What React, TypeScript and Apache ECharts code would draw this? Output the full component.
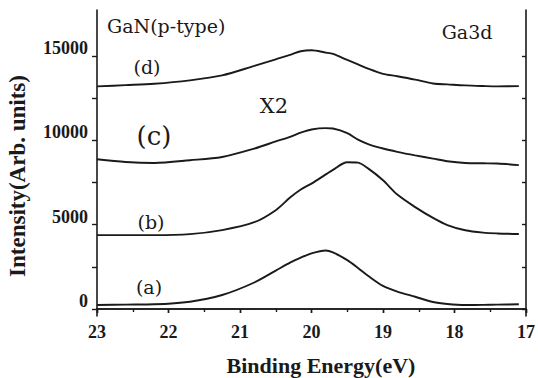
import React, { useEffect, useRef } from "react";
import * as echarts from "echarts";

const energies = [23.0, 22.6, 22.2, 21.7, 21.25, 20.8, 20.5, 20.3, 20.15, 20.0, 19.8, 19.7, 19.5, 19.35, 19.2, 19.0, 18.8, 18.55, 18.3, 18.1, 17.85, 17.6, 17.4, 17.1];

const curveA = [237, 260, 278, 432, 828, 1570, 2274, 2745, 3040, 3300, 3470, 3350, 2898, 2435, 1940, 1370, 1035, 725, 415, 300, 240, 245, 260, 278];
const curveB = [4376, 4376, 4376, 4435, 4672, 5140, 5855, 6600, 7080, 7427, 7972, 8244, 8690, 8670, 8300, 7627, 6778, 6037, 5395, 4975, 4665, 4525, 4477, 4440];
const curveC = [8870, 8711, 8652, 8811, 9006, 9500, 9926, 10200, 10446, 10634, 10715, 10690, 10420, 10030, 9755, 9505, 9310, 9100, 8910, 8755, 8650, 8630, 8616, 8525];
const curveD = [13187, 13260, 13340, 13545, 13838, 14400, 14790, 15050, 15270, 15330, 15190, 15110, 14750, 14490, 14220, 13930, 13790, 13590, 13355, 13306, 13245, 13210, 13190, 13200];

const yLabelValues = [0, 5000, 10000, 15000];
const yTickValues = [0, 2500, 5000, 7500, 10000, 12500, 15000];
const xMin = 17;
const xMax = 23;
const yMin = -414;
const yMax = 17711;

const INK = "#1a1a1a";
const SERIF = "'Liberation Serif', 'DejaVu Serif', serif";
const WIDE_SERIF = "'DejaVu Serif', serif";

function pair(vals: number[]) {
  return energies.map((e, i) => [e, vals[i]]);
}

export default function App() {
  const ref = useRef<HTMLDivElement>(null);
  useEffect(() => {
    document.body.style.margin = "0";
    if (!ref.current) return;
    const chart = echarts.init(ref.current, null, { renderer: "svg" });
    const lineStyle = { color: INK, width: 1.9 };
    const mkSeries = (name: string, vals: number[]) => ({
      name,
      type: "line",
      data: pair(vals),
      showSymbol: false,
      smooth: 0.3,
      lineStyle,
      xAxisIndex: 0,
      yAxisIndex: 0,
    });
    const label = (text: string, x: number, y: number, size: number) => ({
      type: "text",
      x,
      y,
      style: { text, font: `${size}px ${WIDE_SERIF}`, fill: INK, align: "center", verticalAlign: "middle" },
    });
    chart.setOption({
      animation: false,
      backgroundColor: "#ffffff",
      grid: { left: 97, right: 9, top: 10, bottom: 62, containLabel: false },
      xAxis: [
        {
          type: "value",
          min: xMin,
          max: xMax,
          interval: 1,
          inverse: true,
          position: "bottom",
          axisLine: { show: true, lineStyle: { color: INK, width: 1.6 } },
          axisTick: { show: true, inside: false, length: 4, lineStyle: { color: INK, width: 1.4 } },
          minorTick: { show: true, splitNumber: 2, length: 3, lineStyle: { color: INK, width: 1.2 } },
          axisLabel: { fontFamily: SERIF, fontSize: 18, fontWeight: "bold", color: INK, margin: 7 },
          splitLine: { show: false },
        },
        {
          type: "value",
          min: xMin,
          max: xMax,
          interval: 1,
          inverse: true,
          position: "top",
          axisLine: { show: true, lineStyle: { color: INK, width: 1.6 } },
          axisTick: { show: true, inside: true, length: 4, lineStyle: { color: INK, width: 1.4 } },
          minorTick: { show: true, splitNumber: 2, length: 3, lineStyle: { color: INK, width: 1.2 } },
          axisLabel: { show: false },
          splitLine: { show: false },
        },
      ],
      yAxis: [
        {
          type: "value",
          min: yMin,
          max: yMax,
          position: "left",
          axisLine: { show: true, lineStyle: { color: INK, width: 1.6 } },
          axisTick: { show: true, inside: false, length: 5, customValues: yTickValues, lineStyle: { color: INK, width: 1.4 } },
          axisLabel: {
            fontFamily: SERIF,
            fontSize: 18,
            fontWeight: "bold",
            color: INK,
            margin: 9,
            customValues: yLabelValues,
            formatter: (v: number) => String(v),
            verticalAlign: "bottom",
            lineHeight: 16,
          },
          splitLine: { show: false },
        },
        {
          type: "value",
          min: yMin,
          max: yMax,
          position: "right",
          axisLine: { show: true, lineStyle: { color: INK, width: 1.6 } },
          axisTick: { show: true, inside: true, length: 4, customValues: yTickValues, lineStyle: { color: INK, width: 1.4 } },
          axisLabel: { show: false },
          splitLine: { show: false },
        },
      ],
      series: [
        mkSeries("(a)", curveA),
        mkSeries("(b)", curveB),
        mkSeries("(c)", curveC),
        mkSeries("(d)", curveD),
      ],
      graphic: [
        { type: "text", x: 107, y: 26, style: { text: "GaN(p-type)", font: `19px ${WIDE_SERIF}`, fill: INK, align: "left", verticalAlign: "middle" } },
        label("Ga3d", 467, 32, 19),
        label("(d)", 147, 67, 19),
        label("(c)", 154, 136, 26),
        label("X2", 274, 106, 21),
        label("(b)", 151, 222, 19),
        label("(a)", 149, 287, 19),
        {
          type: "text",
          x: 321,
          y: 365,
          style: { text: "Binding Energy(eV)", font: `bold 22px ${SERIF}`, fill: INK, align: "center", verticalAlign: "middle" },
        },
        {
          type: "text",
          x: 17,
          y: 176,
          rotation: Math.PI / 2,
          style: { text: "Intensity(Arb. units)", font: `bold 23px ${SERIF}`, fill: INK, align: "center", verticalAlign: "middle" },
        },
      ],
    });
    return () => chart.dispose();
  }, []);
  return <div ref={ref} style={{ width: 538, height: 378 }} />;
}
